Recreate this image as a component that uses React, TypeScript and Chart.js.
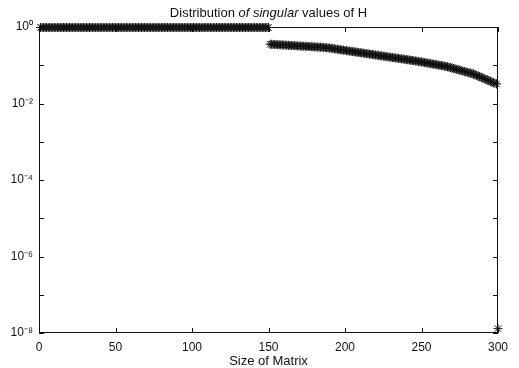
import { useEffect, useRef } from "react";
import { Chart, registerables } from "chart.js";

Chart.register(...registerables);

// title pieces: [text, italic]
const chartTitleParts: [string, boolean][] = [
  ["Distribution ", false],
  ["of singular", true],
  [" values of H", false],
];
const xAxisTitle = "Size of Matrix";

// x axis ticks (matrix index)
const xTickValues = [0, 50, 100, 150, 200, 250, 300];

// log axis: a tick at every decade, a label on every second one
const yDecades = [1e-8, 1e-7, 1e-6, 1e-5, 1e-4, 1e-3, 1e-2, 1e-1, 1];
const yLabelledDecades = [1, 1e-2, 1e-4, 1e-6, 1e-8];
const yTickLabels = ["10⁰", "10⁻²", "10⁻⁴", "10⁻⁶", "10⁻⁸"];

// singular values 1..150
const leadingValues = [
  0.97, 0.97, 0.97, 0.97, 0.97, 0.97, 0.97, 0.97, 0.97, 0.97, 0.97, 0.97, 0.97, 0.97, 0.97,
  0.97, 0.97, 0.97, 0.97, 0.97, 0.97, 0.97, 0.97, 0.97, 0.97, 0.97, 0.97, 0.97, 0.97, 0.97,
  0.97, 0.97, 0.97, 0.97, 0.97, 0.97, 0.97, 0.97, 0.97, 0.97, 0.97, 0.97, 0.97, 0.97, 0.97,
  0.97, 0.97, 0.97, 0.97, 0.97, 0.97, 0.97, 0.97, 0.97, 0.97, 0.97, 0.97, 0.97, 0.97, 0.97,
  0.97, 0.97, 0.97, 0.97, 0.97, 0.97, 0.97, 0.97, 0.97, 0.97, 0.97, 0.97, 0.97, 0.97, 0.97,
  0.97, 0.97, 0.97, 0.97, 0.97, 0.97, 0.97, 0.97, 0.97, 0.97, 0.97, 0.97, 0.97, 0.97, 0.97,
  0.97, 0.97, 0.97, 0.97, 0.97, 0.97, 0.97, 0.97, 0.97, 0.97, 0.97, 0.97, 0.97, 0.97, 0.97,
  0.97, 0.97, 0.97, 0.97, 0.97, 0.97, 0.97, 0.97, 0.97, 0.97, 0.97, 0.97, 0.97, 0.97, 0.97,
  0.97, 0.97, 0.97, 0.97, 0.97, 0.97, 0.97, 0.97, 0.97, 0.97, 0.97, 0.97, 0.97, 0.97, 0.97,
  0.97, 0.97, 0.97, 0.97, 0.97, 0.97, 0.97, 0.97, 0.97, 0.97, 0.97, 0.97, 0.97, 0.97, 0.97,
];

// singular values 151..299
const trailingValues = [
  0.355, 0.353, 0.351, 0.349, 0.347, 0.345, 0.343, 0.341, 0.340, 0.338,
  0.336, 0.334, 0.332, 0.330, 0.328, 0.327, 0.325, 0.323, 0.321, 0.319,
  0.318, 0.316, 0.314, 0.313, 0.311, 0.309, 0.307, 0.306, 0.304, 0.302,
  0.301, 0.299, 0.297, 0.296, 0.294, 0.292, 0.290, 0.288,
  0.284, 0.281, 0.277, 0.273, 0.269, 0.265, 0.262, 0.258, 0.255, 0.251,
  0.248, 0.244, 0.241, 0.238, 0.234, 0.231, 0.228, 0.225, 0.222, 0.219,
  0.216, 0.213, 0.210, 0.207, 0.204, 0.201, 0.199, 0.196, 0.193, 0.191,
  0.188, 0.185, 0.183, 0.180, 0.178, 0.175, 0.173, 0.171, 0.168, 0.166,
  0.164, 0.161, 0.159,
  0.157, 0.155, 0.153, 0.151, 0.149, 0.147, 0.145, 0.143, 0.141, 0.139,
  0.137, 0.135, 0.133, 0.131, 0.129, 0.128, 0.126, 0.124,
  0.122, 0.120, 0.117, 0.116, 0.114, 0.112, 0.110, 0.108, 0.107, 0.105,
  0.103, 0.101, 0.0998, 0.0982, 0.0964, 0.0948, 0.0933, 0.0912,
  0.0889, 0.0867, 0.0843, 0.0822, 0.0802, 0.0782, 0.0762, 0.0743, 0.0723, 0.0705,
  0.0687, 0.0670, 0.0653, 0.0635, 0.0619, 0.0604, 0.0589,
  0.0566, 0.0543, 0.0522, 0.0502, 0.0482, 0.0463, 0.0446, 0.0428, 0.0411, 0.0395,
  0.0379, 0.0365, 0.0351, 0.0337, 0.0324,
];

// singular value 300
const finalValues = [1.3e-8];

const FONT_FAMILY = "'Liberation Sans', Arial, Helvetica, sans-serif";
const INK = "#111111";

const frameAndTitle = {
  id: "frameAndTitle",
  beforeDatasetsDraw(chart: any) {
    const { ctx, chartArea } = chart;
    const { left, right, top, bottom } = chartArea;
    const xs = chart.scales.x;
    const ys = chart.scales.y;
    const tick = 5;
    ctx.save();
    ctx.strokeStyle = INK;
    ctx.lineWidth = 1;
    ctx.strokeRect(left + 0.5, top + 0.5, right - left - 1, bottom - top - 1);
    ctx.beginPath();
    for (const v of xTickValues) {
      const px = Math.round(xs.getPixelForValue(v)) + 0.5;
      ctx.moveTo(px, bottom);
      ctx.lineTo(px, bottom - tick);
      ctx.moveTo(px, top);
      ctx.lineTo(px, top + tick);
    }
    for (const v of yDecades) {
      const py = Math.round(ys.getPixelForValue(v)) + 0.5;
      ctx.moveTo(left, py);
      ctx.lineTo(left + tick, py);
      ctx.moveTo(right, py);
      ctx.lineTo(right - tick, py);
    }
    ctx.stroke();
    ctx.restore();
  },
  afterDraw(chart: any) {
    const { ctx, chartArea } = chart;
    const cx = (chartArea.left + chartArea.right) / 2;
    ctx.save();
    ctx.fillStyle = INK;
    ctx.textBaseline = "middle";
    ctx.textAlign = "left";
    const fontFor = (italic: boolean) => `${italic ? "italic " : ""}13px ${FONT_FAMILY}`;
    let total = 0;
    for (const [t, it] of chartTitleParts) {
      ctx.font = fontFor(it);
      total += ctx.measureText(t).width;
    }
    let x = cx - total / 2;
    for (const [t, it] of chartTitleParts) {
      ctx.font = fontFor(it);
      ctx.fillText(t, x, 13);
      x += ctx.measureText(t).width;
    }
    ctx.font = `13px ${FONT_FAMILY}`;
    ctx.textAlign = "center";
    ctx.fillText(xAxisTitle, cx, 361);
    ctx.restore();
  },
};

export default function App() {
  const canvasRef = useRef<HTMLCanvasElement | null>(null);

  useEffect(() => {
    if (!canvasRef.current) return;
    const values = [...leadingValues, ...trailingValues, ...finalValues];
    const points = values.map((v, i) => ({ x: i + 1, y: v }));

    const chart = new Chart(canvasRef.current, {
      type: "scatter",
      data: {
        datasets: [
          {
            data: points,
            pointStyle: "star",
            pointRadius: 4.5,
            pointBorderWidth: 1,
            pointBorderColor: INK,
            pointBackgroundColor: INK,
            showLine: false,
            clip: false,
          } as any,
        ],
      },
      options: {
        responsive: false,
        animation: false,
        devicePixelRatio: 1,
        layout: { padding: { left: 0, right: 21, top: 27, bottom: 0 } },
        plugins: {
          legend: { display: false },
          tooltip: { enabled: false },
          title: { display: false },
        },
        scales: {
          x: {
            type: "linear",
            min: 0,
            max: 300,
            grid: { display: false, drawTicks: false },
            border: { display: false },
            afterBuildTicks: (scale: any) => {
              scale.ticks = xTickValues.map((v) => ({ value: v }));
            },
            afterFit: (scale: any) => {
              scale.height = 35;
            },
            ticks: {
              autoSkip: false,
              maxRotation: 0,
              padding: 7,
              color: INK,
              font: { family: FONT_FAMILY, size: 12 },
              callback: (v: any) => String(v),
            },
          },
          y: {
            type: "logarithmic",
            min: 1e-8,
            max: 1,
            grid: { display: false, drawTicks: false },
            border: { display: false },
            afterBuildTicks: (scale: any) => {
              scale.ticks = yDecades.map((v) => ({ value: v }));
            },
            afterFit: (scale: any) => {
              scale.width = 39;
            },
            ticks: {
              autoSkip: false,
              padding: 6,
              color: INK,
              font: { family: FONT_FAMILY, size: 12 },
              callback: (v: any) => {
                const idx = yLabelledDecades.findIndex(
                  (d) => Math.abs(Math.log10(d) - Math.log10(Number(v))) < 1e-6
                );
                return idx >= 0 ? yTickLabels[idx] : "";
              },
            },
          },
        },
      },
      plugins: [frameAndTitle],
    });

    return () => chart.destroy();
  }, []);

  return (
    <div
      style={{
        position: "fixed",
        left: 0,
        top: 0,
        width: 519,
        height: 368,
        background: "#ffffff",
      }}
    >
      <canvas ref={canvasRef} width={519} height={368} />
    </div>
  );
}
